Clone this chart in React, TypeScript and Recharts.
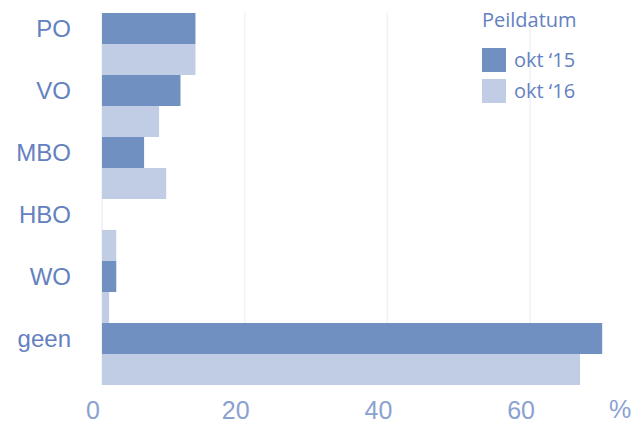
import { BarChart, Bar, XAxis, YAxis, CartesianGrid, Label } from 'recharts'

// opleidingsniveau, aandeel in %
const categories = ['PO', 'VO', 'MBO', 'HBO', 'WO', 'geen']
const okt15 = [13.1, 11.0, 5.9, 0, 2.0, 70.1]
const okt16 = [13.1, 8.0, 9.0, 2.0, 1.0, 67.0]
const seriesNames = ['okt ‘15', 'okt ‘16']
const xTicks = [0, 20, 40, 60]
const xMax = 74
const unitLabel = '%'

const darkBlue = '#7090c1'
const lightBlue = '#c1cde4'
const textColor = '#6481bf'
const tickColor = '#8aa2d0'
const axisFont = "'Liberation Sans', Arial, sans-serif"

const data = categories.map((c, i) => ({ name: c, okt15: okt15[i], okt16: okt16[i] }))

const YTick = ({ x, y, payload }: any) => (
  <text
    x={x - 23}
    y={y - 15}
    dy="0.35em"
    textAnchor="end"
    fill={textColor}
    fontSize={24}
    fontFamily={axisFont}
  >
    {payload.value}
  </text>
)

const XTick = ({ x, y, payload }: any) => (
  <text x={x - 9} y={y + 8} dy="0.71em" textAnchor="middle" fill={tickColor} fontSize={25} fontFamily={axisFont}>
    {payload.value}
  </text>
)

// '%' rechts onder de as
const UnitLabel = ({ viewBox }: any) => (
  <text
    x={viewBox.x + viewBox.width - 10}
    y={viewBox.y + 15}
    dy="0.71em"
    textAnchor="middle"
    fill={tickColor}
    fontSize={25}
    fontFamily={axisFont}
  >
    {unitLabel}
  </text>
)

// alleen rasterlijnen op de ticks, niet op de rechterrand
const gridX = ({ offset }: any) => xTicks.map((v) => offset.left + (offset.width * v) / xMax)

// legenda los van de grafiek, zodat de plot de volle breedte houdt
const LegendBox = () => (
  <div
    style={{
      position: 'absolute',
      top: 8,
      left: 482,
      fontFamily: "'Open Sans', sans-serif",
      color: textColor,
      fontSize: 20,
    }}
  >
    <div style={{ lineHeight: '24px', marginBottom: 12 }}>Peildatum</div>
    {seriesNames.map((n, i) => (
      <div key={n} style={{ display: 'flex', alignItems: 'center', height: 31 }}>
        <span
          style={{
            display: 'inline-block',
            width: 24,
            height: 24,
            background: i === 0 ? darkBlue : lightBlue,
            marginRight: 8,
          }}
        />
        <span>{n}</span>
      </div>
    ))}
  </div>
)

export default function App() {
  return (
    <div style={{ position: 'absolute', left: 0, top: 0, width: 631, height: 422, background: '#fff' }}>
      <BarChart
        width={631}
        height={422}
        data={data}
        layout="vertical"
        barCategoryGap={0}
        barGap={0}
        margin={{ top: 13, right: 1, left: 0, bottom: 0 }}
      >
        <CartesianGrid horizontal={false} stroke="#eef1f8" strokeWidth={1.5} verticalCoordinatesGenerator={gridX} />
        <XAxis
          type="number"
          domain={[0, xMax]}
          ticks={xTicks}
          axisLine={false}
          tickLine={false}
          height={37}
          tick={<XTick />}
          interval={0}
        >
          <Label content={<UnitLabel />} />
        </XAxis>
        <YAxis
          type="category"
          dataKey="name"
          width={102}
          axisLine={false}
          tickLine={false}
          tick={<YTick />}
          interval={0}
        />
        <Bar dataKey="okt15" name={seriesNames[0]} fill={darkBlue} isAnimationActive={false} />
        <Bar dataKey="okt16" name={seriesNames[1]} fill={lightBlue} isAnimationActive={false} />
      </BarChart>
      <LegendBox />
    </div>
  )
}
